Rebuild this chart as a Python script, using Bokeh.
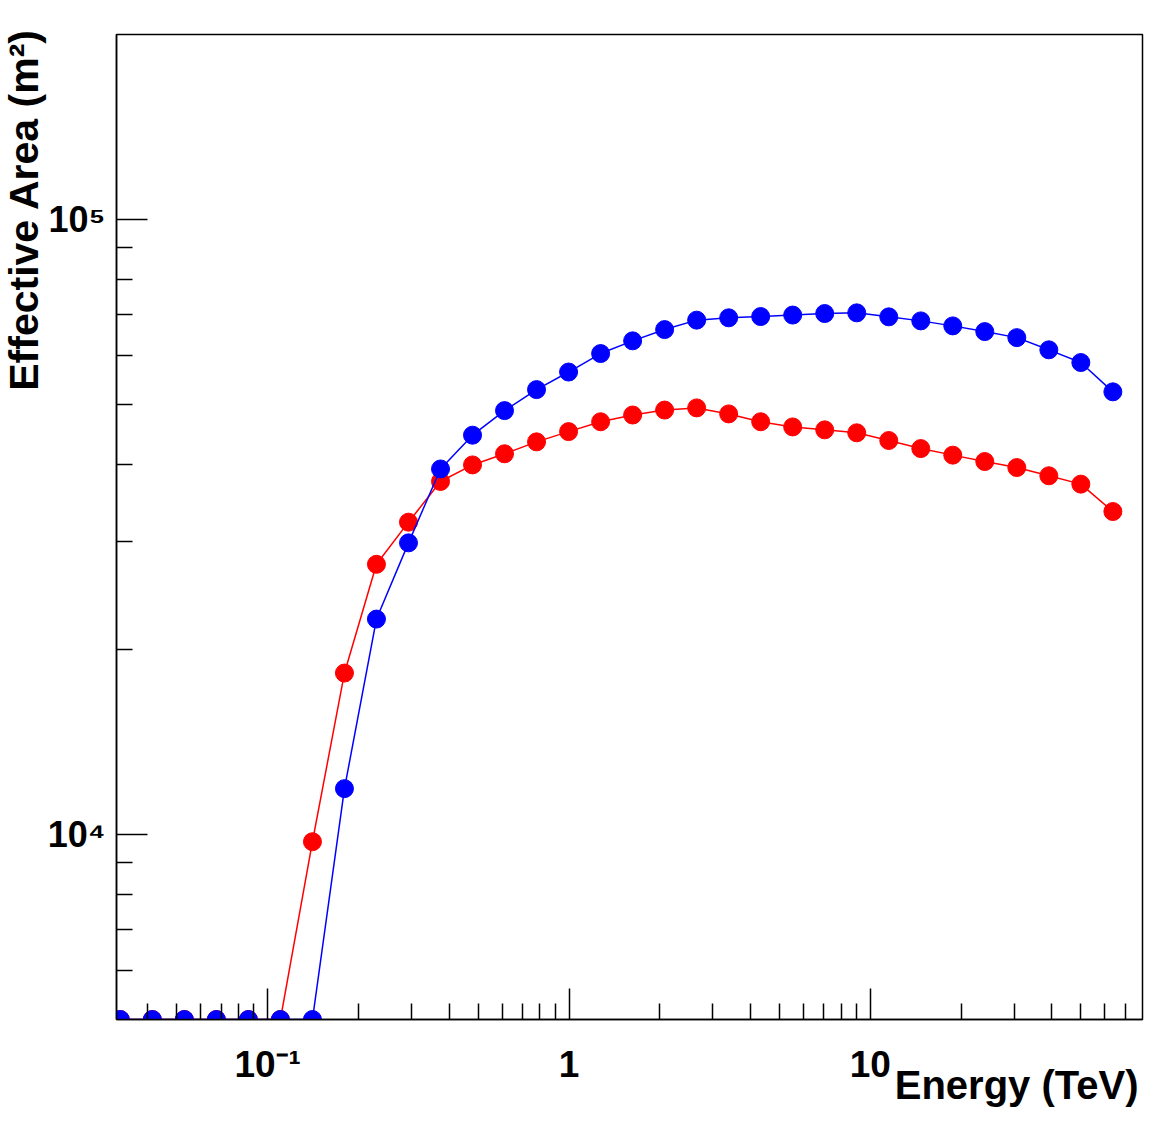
from bokeh.plotting import figure
from bokeh.models import FixedTicker, CustomJSTickFormatter, Range1d, Title
from bokeh.embed import file_html
from bokeh.resources import INLINE

# ---- data ----
energy_tev = [0.03243, 0.04143, 0.05291, 0.06757, 0.08630, 0.1102, 0.1408, 0.1798,
              0.2296, 0.2933, 0.3746, 0.4784, 0.6109, 0.7802, 0.9966, 1.273,
              1.626, 2.076, 2.652, 3.387, 4.325, 5.524, 7.055, 9.011,
              11.51, 14.70, 18.77, 23.97, 30.62, 39.11, 49.94, 63.79]

area_red = [5000, 5000, 5000, 5000, 5000, 5000, 9730, 18300,
            27500, 32200, 37500, 39900, 41600, 43500, 45200, 46900,
            48100, 49000, 49400, 48300, 46900, 46000, 45500, 45000,
            43720, 42420, 41390, 40410, 39510, 38310, 37130, 33510]

area_blue = [5000, 5000, 5000, 5000, 5000, 5000, 5000, 11870,
             22400, 29800, 39300, 44600, 48900, 52900, 56500, 60550,
             63500, 66240, 68620, 69220, 69550, 69940, 70340, 70520,
             69470, 68430, 67160, 65740, 64270, 61400, 58550, 52460]

x_major_ticks = [0.1, 1, 10]
x_major_labels = ["10⁻¹", "1", "10"]
x_minor_ticks = [0.04, 0.05, 0.06, 0.07, 0.08, 0.09,
                 0.2, 0.3, 0.4, 0.5, 0.6, 0.7, 0.8, 0.9,
                 2, 3, 4, 5, 6, 7, 8, 9,
                 20, 30, 40, 50, 60, 70]
y_major_ticks = [1e4, 1e5]
y_major_labels = ["10⁴", "10⁵"]
y_minor_ticks = [6000, 7000, 8000, 9000,
                 20000, 30000, 40000, 50000, 60000, 70000, 80000, 90000]

x_title = "Energy (TeV)"
y_title = "Effective Area (m²)"

FONT = "Liberation Sans"

W, H = 1157, 1109
FRAME_L, FRAME_T, FRAME_R, FRAME_B = 115, 34, 1142, 1019

p = figure(width=W, height=H,
           x_axis_type="log", y_axis_type="log",
           x_range=Range1d(0.0315, 80), y_range=Range1d(5000, 2e5),
           output_backend="svg", toolbar_location=None,
           min_border_left=FRAME_L, min_border_right=W - FRAME_R,
           min_border_top=FRAME_T, min_border_bottom=H - FRAME_B)

p.background_fill_color = "white"
p.border_fill_color = "white"
p.outline_line_color = "black"
p.outline_line_width = 1.5
p.xgrid.grid_line_color = None
p.ygrid.grid_line_color = None

fmt_code = """
for (let i = 0; i < vals.length; i++) {
  if (Math.abs(tick - vals[i]) <= 1e-6 * vals[i]) { return labs[i]; }
}
return "";
"""

xa = p.xaxis[0]
ya = p.yaxis[0]
xa.ticker = FixedTicker(ticks=x_major_ticks, minor_ticks=x_minor_ticks)
ya.ticker = FixedTicker(ticks=y_major_ticks, minor_ticks=y_minor_ticks)
xa.formatter = CustomJSTickFormatter(args=dict(vals=x_major_ticks, labs=x_major_labels), code=fmt_code)
ya.formatter = CustomJSTickFormatter(args=dict(vals=y_major_ticks, labs=y_major_labels), code=fmt_code)

for ax in (xa, ya):
    ax.axis_line_color = "black"
    ax.axis_line_width = 1.5
    ax.major_tick_line_color = "black"
    ax.major_tick_line_width = 1.5
    ax.minor_tick_line_color = "black"
    ax.minor_tick_line_width = 1.5
    ax.major_tick_in = 31
    ax.major_tick_out = 0
    ax.minor_tick_in = 16
    ax.minor_tick_out = 0
    ax.major_label_text_font = FONT
    ax.major_label_text_font_style = "bold"
    ax.major_label_text_color = "black"

xa.major_label_text_font_size = "37px"
ya.major_label_text_font_size = "36px"
xa.major_label_standoff = 24
ya.major_label_standoff = 11

# axis titles as side-panel titles, aligned to the far ends of the axes
p.add_layout(Title(text=x_title, align="right", vertical_align="top", standoff=-50, offset=4,
                   text_font=FONT, text_font_style="bold", text_font_size="40px",
                   text_color="black"), "below")
p.add_layout(Title(text=y_title, align="right", vertical_align="bottom", standoff=-4, offset=-6,
                   text_font=FONT, text_font_style="bold", text_font_size="41px",
                   text_color="black"), "left")

# red series first, blue on top
p.line(energy_tev, area_red, line_color="#ff0000", line_width=1.5)
p.scatter(energy_tev, area_red, size=18, fill_color="#ff0000", line_color="#ff0000")
p.line(energy_tev, area_blue, line_color="#0000ff", line_width=1.5)
p.scatter(energy_tev, area_blue, size=18, fill_color="#0000ff", line_color="#0000ff")

open("out.html", "w").write(file_html(p, INLINE))
